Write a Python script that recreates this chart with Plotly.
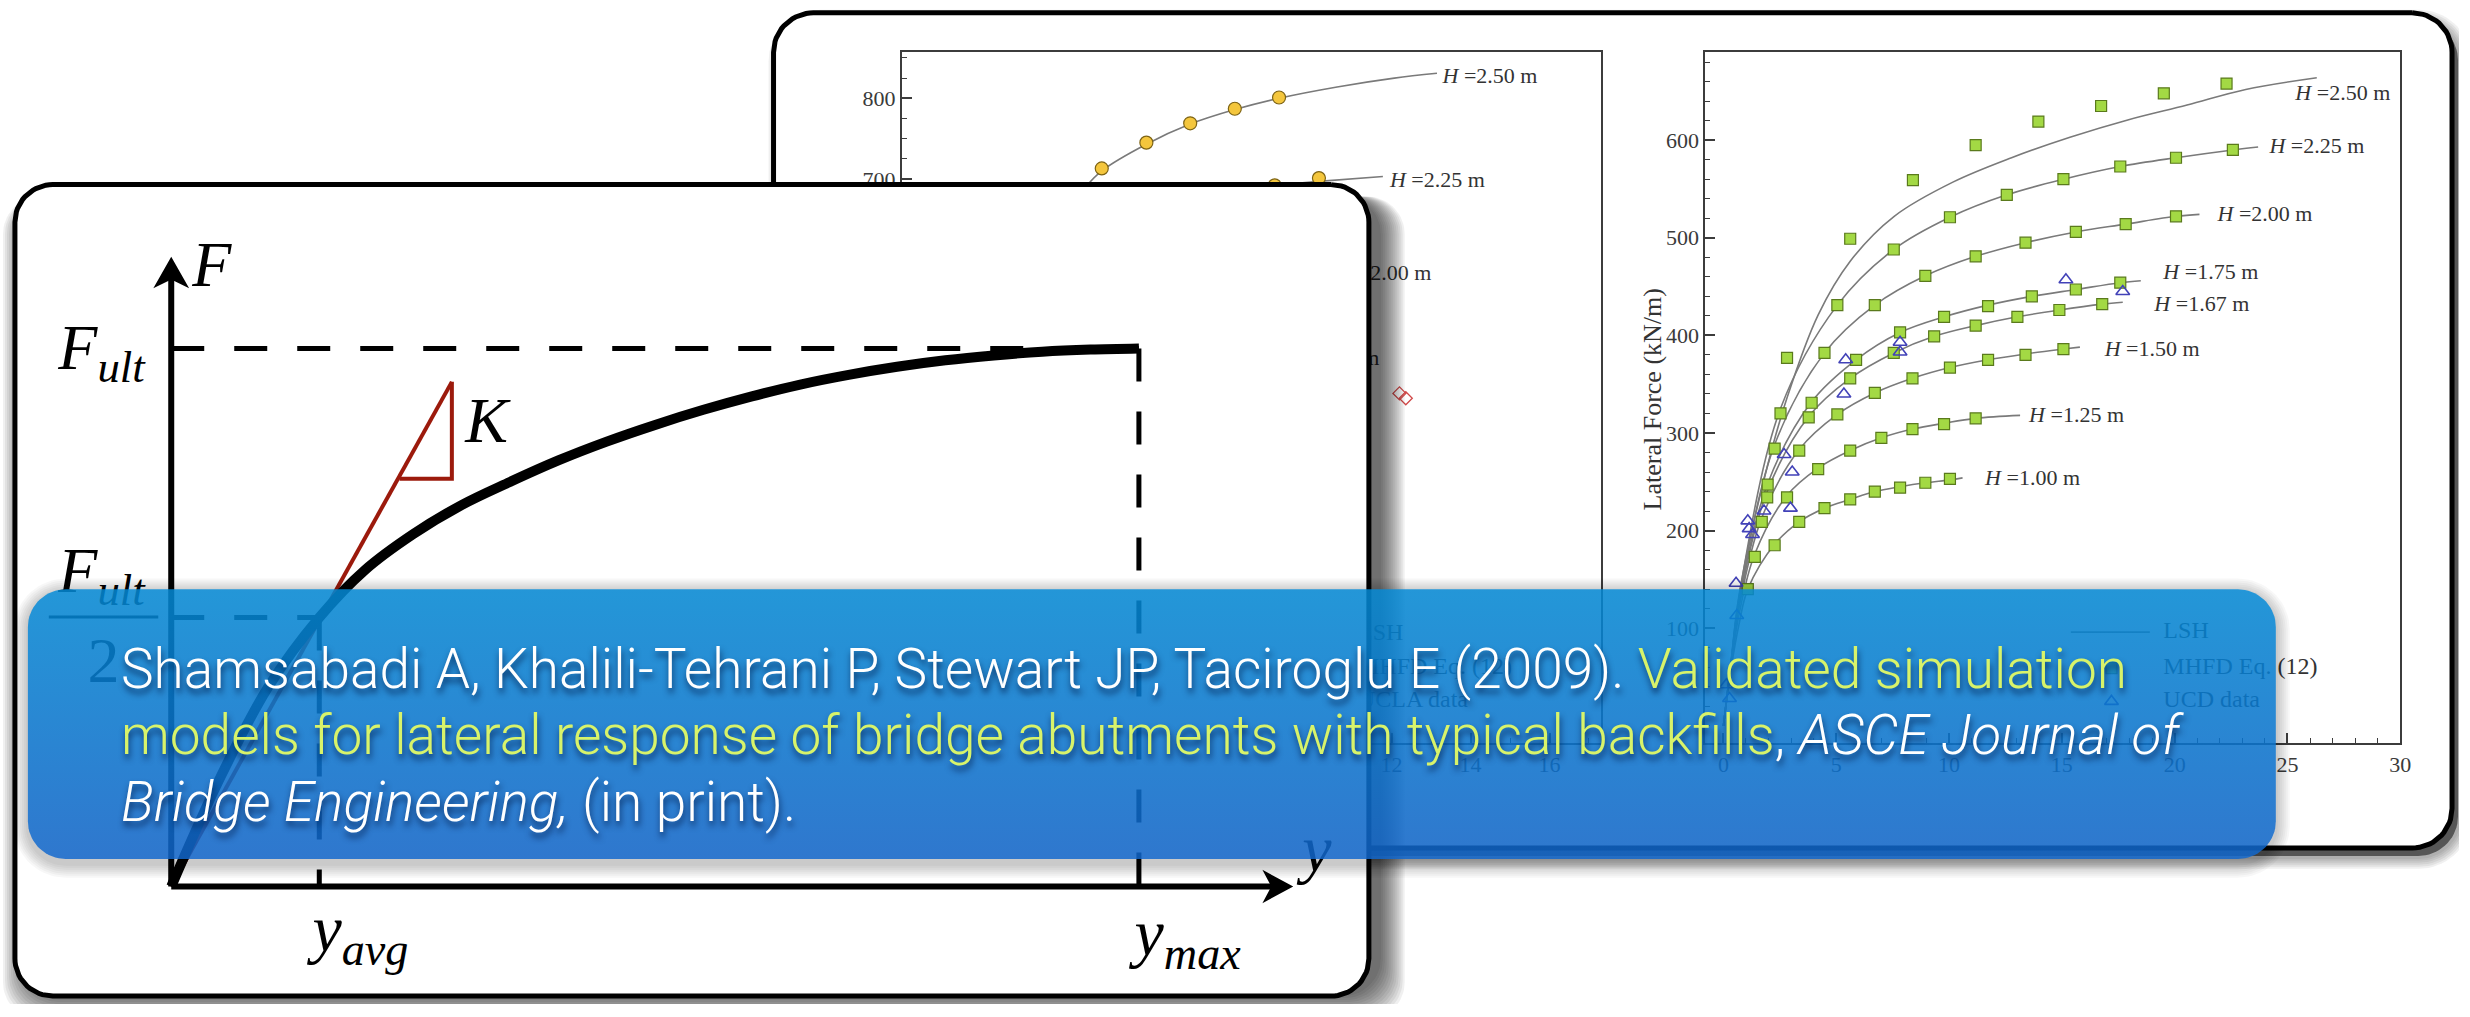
import numpy as np
import plotly.graph_objects as go

W, H = 2470, 1017
SERIF = "Liberation Serif"

# ------------------------------------------------------------------
# Right panel: lateral force (kN/m) vs displacement (cm)
# MHFD Eq. (12) points per backfill height
mhfd_100_x = [1.08, 2.27, 3.36, 4.48, 5.62, 6.71, 7.83, 8.95, 10.04]
mhfd_100_y = [140, 185, 209, 223, 232, 240, 244, 249, 253]
mhfd_125_x = [1.39, 2.82, 4.20, 5.62, 7.00, 8.38, 9.78, 11.18]
mhfd_125_y = [173, 234, 263, 282, 295, 304, 309, 315]
mhfd_150_x = [1.70, 3.36, 5.05, 6.71, 8.38, 10.04, 11.73, 13.39, 15.07]
mhfd_150_y = [209, 282, 319, 341, 356, 367, 375, 380, 386]
mhfd_167_x = [1.94, 3.78, 5.62, 7.55, 9.34, 11.18, 13.03, 14.89, 16.79]
mhfd_167_y = [234, 316, 356, 382, 399, 410, 419, 426, 432]
mhfd_175_x = [1.96, 3.91, 5.88, 7.83, 9.78, 11.73, 13.67, 15.62, 17.59]
mhfd_175_y = [247, 331, 375, 403, 419, 430, 440, 447, 454]
mhfd_200_x = [2.27, 4.48, 6.71, 8.95, 11.18, 13.39, 15.62, 17.83, 20.06]
mhfd_200_y = [284, 382, 431, 461, 481, 495, 506, 514, 522]
mhfd_225_x = [2.53, 5.05, 7.55, 10.04, 12.56, 15.07, 17.59, 20.06, 22.58]
mhfd_225_y = [320, 431, 488, 521, 544, 560, 573, 582, 590]
mhfd_250_x = [2.82, 5.62, 8.40, 11.18, 13.96, 16.74, 19.52, 22.30]
mhfd_250_y = [377, 499, 559, 595, 619, 635, 648, 658]

# LSH model curves
lsh_100_x = [0, 0.35, 0.70, 1.08, 2.27, 3.36, 4.48, 5.62, 6.71, 7.83, 8.95, 10.04, 10.6]
lsh_100_y = [0, 60, 105, 140, 186, 209, 223, 232, 240, 245, 249, 252, 254]
lsh_125_x = [0, 0.35, 0.70, 1.39, 2.82, 4.20, 5.62, 7.00, 8.38, 9.78, 11.18, 13.15]
lsh_125_y = [0, 63, 115, 176, 236, 264, 282, 295, 304, 310, 315, 318]
lsh_150_x = [0, 0.35, 0.70, 1.70, 3.36, 5.05, 6.71, 8.38, 10.04, 11.73, 13.39, 15.07, 15.8]
lsh_150_y = [0, 65, 122, 213, 283, 319, 341, 356, 367, 375, 381, 386, 388]
lsh_167_x = [0, 0.35, 0.70, 1.94, 3.78, 5.62, 7.55, 9.34, 11.18, 13.03, 14.89, 16.79, 17.7]
lsh_167_y = [0, 66, 126, 240, 317, 356, 382, 399, 410, 419, 426, 432, 434]
lsh_175_x = [0, 0.35, 0.70, 1.96, 3.91, 5.88, 7.83, 9.78, 11.73, 13.67, 15.62, 17.59, 18.5]
lsh_175_y = [0, 66, 128, 248, 332, 375, 403, 419, 431, 440, 447, 454, 456]
lsh_200_x = [0, 0.35, 0.70, 2.27, 4.48, 6.71, 8.95, 11.18, 13.39, 15.62, 17.83, 20.06, 21.1]
lsh_200_y = [0, 67, 130, 288, 382, 431, 461, 481, 495, 506, 514, 522, 524]
lsh_225_x = [0, 0.35, 0.70, 2.53, 5.05, 7.55, 10.04, 12.56, 15.07, 17.59, 20.06, 22.58, 23.7]
lsh_225_y = [0, 68, 133, 325, 431, 488, 521, 544, 560, 573, 582, 590, 593]
lsh_250_x = [0, 0.35, 0.70, 1.86, 2.82, 4.20, 5.62, 7.57, 10.17, 12.77, 15.36, 17.96, 20.55, 23.15, 26.3]
lsh_250_y = [0, 68, 135, 258, 336, 421, 476, 522, 557, 582, 603, 621, 636, 652, 664]

# UCD test data
ucd_x = [0.13, 0.27, 0.59, 0.56, 1.08, 1.14, 1.29, 1.80, 2.69, 2.97, 3.05, 5.34, 5.42, 7.83, 7.83, 15.18, 17.70]
ucd_y = [42, 28, 113, 146, 210, 202, 196, 220, 278, 223, 260, 340, 375, 393, 383, 457, 445]

right_labels = ["2.50", "2.25", "2.00", "1.75", "1.67", "1.50", "1.25", "1.00"]
right_label_x = [25.35, 24.2, 21.9, 19.5, 19.1, 16.9, 13.55, 11.6]
right_label_y = [647, 592, 523, 463, 431, 384, 317, 252]
right_xticks = [0, 5, 10, 15, 20, 25, 30]
right_yticks = [100, 200, 300, 400, 500, 600]

# ------------------------------------------------------------------
# Left panel (partly covered)
left_250_x = [4.66, 5.79, 6.90, 8.03, 9.15]
left_250_y = [713, 745, 769, 787, 801]
left_225_x = [9.04, 10.16]
left_225_y = [692, 701]
left_lsh_250_x = [4.27, 4.66, 5.79, 6.90, 8.03, 9.15, 10.62, 12.07, 13.15]
left_lsh_250_y = [691, 710, 743, 768, 786, 800, 814, 825, 831]
left_lsh_225_x = [8.5, 9.04, 10.16, 11.78]
left_lsh_225_y = [687, 692, 697, 703]
ucla_x = [12.20, 12.36]
ucla_y = [434, 428]
left_labels = ["2.50", "2.25", "2.00", "1.75"]
left_label_x = [13.29, 11.96, 13.01, 11.69]
left_label_y = [826, 697, 581, 476]
left_label_side = ["middle right", "middle right", "middle left", "middle left"]

# ------------------------------------------------------------------
# Schematic backbone curve (normalised: y / y_max, F / F_ult)
schem_disp = [0, 0.05, 0.10, 0.153, 0.20, 0.25, 0.30, 0.35, 0.40, 0.45, 0.50,
              0.55, 0.60, 0.65, 0.70, 0.75, 0.80, 0.85, 0.90, 0.95, 1.0]
schem_force = [0, 0.20, 0.37, 0.50, 0.588, 0.655, 0.709, 0.752, 0.792, 0.827, 0.858,
               0.886, 0.911, 0.933, 0.951, 0.966, 0.978, 0.987, 0.994, 0.998, 1.0]
f_ult = 1.0
y_max = 1.0
y_avg = 0.153
k_tri_x = [0.236, 0.290, 0.290]
k_tri_y = [0.758, 0.758, 0.938]

# ------------------------------------------------------------------
fig = go.Figure()


def ax(n):
    return ("x" if n == 1 else f"x{n}"), ("y" if n == 1 else f"y{n}")


def rrect(x0, y0, x1, y1, r, n=18):
    t = np.linspace(0, np.pi / 2, n)
    xs = np.concatenate([x1 - r + r * np.sin(t), x1 - r + r * np.cos(t),
                         x0 + r - r * np.sin(t), x0 + r - r * np.cos(t)])
    ys = np.concatenate([y0 + r - r * np.cos(t), y1 - r + r * np.sin(t),
                         y1 - r + r * np.cos(t), y0 + r - r * np.sin(t)])
    return list(xs) + [xs[0]], list(ys) + [ys[0]]


def poly(sub, xs, ys, fill, line_color="rgba(0,0,0,0)", lw=0, **kw):
    xa, ya = ax(sub)
    fig.add_trace(go.Scatter(x=xs, y=ys, mode="lines", fill="toself", fillcolor=fill,
                             line=dict(color=line_color, width=lw), hoverinfo="skip",
                             showlegend=False, xaxis=xa, yaxis=ya, **kw))


def line(sub, xs, ys, color, width, dash="solid", shape="linear"):
    xa, ya = ax(sub)
    fig.add_trace(go.Scatter(x=xs, y=ys, mode="lines", line=dict(color=color, width=width, dash=dash, shape=shape),
                             hoverinfo="skip", showlegend=False, xaxis=xa, yaxis=ya, cliponaxis=False))


def marks(sub, xs, ys, symbol, size, color, lcolor, lw=1.2):
    xa, ya = ax(sub)
    fig.add_trace(go.Scatter(x=xs, y=ys, mode="markers",
                             marker=dict(symbol=symbol, size=size, color=color, line=dict(color=lcolor, width=lw)),
                             hoverinfo="skip", showlegend=False, xaxis=xa, yaxis=ya))


def text(sub, x, y, t, size, color="black", pos="middle center", family=SERIF):
    xa, ya = ax(sub)
    fig.add_trace(go.Scatter(x=[x], y=[y], mode="text", text=[t], textposition=pos,
                             textfont=dict(family=family, size=size, color=color),
                             hoverinfo="skip", showlegend=False, xaxis=xa, yaxis=ya, cliponaxis=False))


# ---------------- back card ----------------
BX0, BY0, BX1, BY1, BR = 777, 13, 2463, 859, 40
xs, ys = rrect(BX0 + 6, BY0 + 8, BX1 + 6, BY1 + 8, BR)
poly(1, xs, ys, "rgba(0,0,0,0.5)")
for e in range(2, 14, 2):
    xs, ys = rrect(BX0 + 7 - e, BY0 + 9 - e, BX1 + 7 + e, BY1 + 9 + e, BR + e)
    poly(1, xs, ys, "rgba(0,0,0,0.06)")
xs, ys = rrect(BX0, BY0, BX1, BY1, BR)
poly(1, xs, ys, "white", "black", 5)

# ---------------- left panel ----------------
GREY = "#7a7a7a"
line(2, left_lsh_250_x, left_lsh_250_y, GREY, 1.6, shape="spline")
line(2, left_lsh_225_x, left_lsh_225_y, GREY, 1.6)
marks(2, left_250_x, left_250_y, "circle", 13, "#f4c63d", "#7d6314")
marks(2, left_225_x, left_225_y, "circle", 13, "#f4c63d", "#7d6314")
marks(2, ucla_x, ucla_y, "diamond-open", 10, "#d04848", "#d04848", 1.3)
for lab, lx, ly, side in zip(left_labels, left_label_x, left_label_y, left_label_side):
    text(2, lx, ly, f"<i>H</i> ={lab} m", 22, "#333333", side)
line(2, [9.3, 10.8], [136, 136], GREY, 1.6)
marks(2, [10.05], [93], "circle", 13, "#f4c63d", "#7d6314")
marks(2, [10.05], [53], "diamond-open", 10, "#d04848", "#d04848", 1.3)
for t_, ty in zip(["LSH", "MHFD Eq. (12)", "UCLA data"], [136, 93, 53]):
    text(2, 11.15, ty, t_, 24, "#333333", "middle right")

# ---------------- right panel ----------------
lsh_sets = [(lsh_100_x, lsh_100_y), (lsh_125_x, lsh_125_y), (lsh_150_x, lsh_150_y), (lsh_167_x, lsh_167_y),
            (lsh_175_x, lsh_175_y), (lsh_200_x, lsh_200_y), (lsh_225_x, lsh_225_y), (lsh_250_x, lsh_250_y)]
for cx, cy in lsh_sets:
    line(3, cx, cy, GREY, 1.6, shape="spline")
mhfd_sets = [(mhfd_100_x, mhfd_100_y), (mhfd_125_x, mhfd_125_y), (mhfd_150_x, mhfd_150_y), (mhfd_167_x, mhfd_167_y),
             (mhfd_175_x, mhfd_175_y), (mhfd_200_x, mhfd_200_y), (mhfd_225_x, mhfd_225_y), (mhfd_250_x, mhfd_250_y)]
for mx, my in mhfd_sets:
    marks(3, mx, my, "square", 11, "#a3d944", "#5a7a1c")
marks(3, ucd_x, ucd_y, "triangle-up-open", 12, "#4242b8", "#4242b8", 1.6)
for lab, lx, ly in zip(right_labels, right_label_x, right_label_y):
    text(3, lx, ly, f"<i>H</i> ={lab} m", 22, "#333333", "middle right")
line(3, [15.4, 18.9], [96, 96], GREY, 1.6)
marks(3, [17.2], [59], "square", 11, "#a3d944", "#5a7a1c")
marks(3, [17.2], [25], "triangle-up-open", 12, "#4242b8", "#4242b8", 1.6)
for t_, ty in zip(["LSH", "MHFD Eq. (12)", "UCD data"], [96, 59, 25]):
    text(3, 19.5, ty, t_, 24, "#333333", "middle right")
text(3, 14.6, -66, "Displacement (cm)", 26, "#333333")

# ---------------- front card ----------------
FX0, FY0, FX1, FY1, FR = 15, 187, 1375, 1009, 38
for e in range(0, 26, 2):
    xs, ys = rrect(FX0 + 12 - e, FY0 + 12, FX1 + 12 + e, FY1 + e, FR)
    poly(4, xs, ys, "rgba(0,0,0,0.06)")
xs, ys = rrect(FX0, FY0, FX1, FY1, FR)
poly(4, xs, ys, "white", "black", 5)

# ---------------- schematic ----------------
DASH = "33px,30px"
RED = "#9c1a0c"
line(5, [0, y_max], [f_ult, f_ult], "black", 5, DASH)
line(5, [y_max, y_max], [f_ult, 0], "black", 5, DASH)
line(5, [0, y_avg], [f_ult / 2, f_ult / 2], "black", 5, DASH)
line(5, [y_avg, y_avg], [f_ult / 2, 0], "black", 5, DASH)
line(5, [0, k_tri_x[2]], [0, k_tri_y[2]], RED, 4)
line(5, k_tri_x, k_tri_y, RED, 4)
line(5, schem_disp, schem_force, "black", 10, shape="spline")
line(5, [0, 0], [0, 1.13], "black", 6)
line(5, [0, 1.14], [0, 0], "black", 6)
poly(5, [0, -0.0185, 0, 0.0185, 0], [1.1706, 1.112, 1.128, 1.112, 1.1706], "black")
poly(5, [1.1595, 1.1276, 1.1368, 1.1276, 1.1595], [0, 0.031, 0, -0.031, 0], "black")
line(5, [-0.1265, -0.0134], [0.501, 0.501], "black", 3)
text(5, 0.042, 1.146, "<i>F</i>", 64)
text(5, 0.326, 0.855, "<i>K</i>", 64)
text(5, -0.072, 0.992, "<i>F</i><sub><i>ult</i></sub>", 64)
text(5, -0.072, 0.578, "<i>F</i><sub><i>ult</i></sub>", 64)
text(5, -0.070, 0.41, "2", 64)
text(5, 1.184, 0.06, "<i>y</i>", 66)
text(5, 0.1955, -0.09, "<i>y</i><sub><i>avg</i></sub>", 66)
text(5, 1.0504, -0.097, "<i>y</i><sub><i>max</i></sub>", 66)

# ---------------- banner ----------------
NX0, NY0, NX1, NY1, NR = 28, 597, 2286, 870, 38
for e in range(2, 16, 2):
    xs, ys = rrect(NX0 - e, NY0 + 3 - e, NX1 + e, NY1 + 5 + e, NR + e)
    poly(6, xs, ys, "rgba(0,0,0,0.03)")
xs, ys = rrect(NX0, NY0, NX1, NY1, NR)
fig.add_trace(go.Scatter(x=xs, y=ys, mode="lines", fill="toself", line=dict(width=0, color="rgba(0,0,0,0)"),
                         fillgradient=dict(type="vertical", start=NY0, stop=NY1,
                                           colorscale=[[0, "rgb(4,140,218)"], [1, "rgb(18,102,206)"]]),
                         opacity=0.84, hoverinfo="skip", showlegend=False, xaxis="x6", yaxis="y6"))

# ---------------- layout ----------------
layout = dict(width=W, height=H, margin=dict(l=0, r=0, t=0, b=0), paper_bgcolor="white",
              plot_bgcolor="rgba(0,0,0,0)", showlegend=False, hovermode=False)
for n in (1, 4, 6):
    k = "" if n == 1 else str(n)
    layout["xaxis" + k] = dict(domain=[0, 1], range=[0, W], visible=False, fixedrange=True, anchor="y" + k)
    layout["yaxis" + k] = dict(domain=[0, 1], range=[H, 0], visible=False, fixedrange=True, anchor="x" + k)


def frame_axis(px0, px1, rng, anchor, vertical, dtick=None, tickvals=None, minor=1):
    if vertical:
        dom = [1 - px1 / H, 1 - px0 / H]
    else:
        dom = [px0 / W, px1 / W]
    d = dict(domain=dom, range=rng, anchor=anchor, showline=True, linecolor="#3c3c3c", linewidth=2,
             mirror=True, ticks="inside", ticklen=10, tickwidth=1.6, tickcolor="#3c3c3c",
             showgrid=False, zeroline=False, fixedrange=True,
             tickfont=dict(family=SERIF, size=22, color="#3a3a3a"),
             minor=dict(ticks="inside", ticklen=5, tickwidth=1.2, tickcolor="#3c3c3c",
                        tick0=0, dtick=minor, showgrid=False))
    if tickvals is not None:
        d.update(tickmode="array", tickvals=tickvals, ticktext=[str(v) for v in tickvals])
    else:
        d.update(tick0=0, dtick=dtick)
    return d


layout["xaxis2"] = frame_axis(906, 1608, [-0.4, 17.3], "y2", False, dtick=2, minor=1)
layout["yaxis2"] = frame_axis(53, 753, [0, 857], "x2", True, dtick=100, minor=25)
layout["xaxis3"] = frame_axis(1713, 2411, [-0.8, 30], "y3", False, tickvals=right_xticks, minor=1)
layout["yaxis3"] = frame_axis(53, 753, [-18, 690], "x3", True, tickvals=right_yticks, minor=20)


# schematic axes: origin at (172, 898) px, y_max at 1144 px, F_ult at 353 px
def sx(px):
    return (px - 172) / 972.0


def sy(py):
    return (898 - py) / 545.0


layout["xaxis5"] = dict(domain=[FX0 / W, FX1 / W], range=[sx(FX0), sx(FX1)], visible=False,
                        fixedrange=True, anchor="y5")
layout["yaxis5"] = dict(domain=[1 - FY1 / H, 1 - FY0 / H], range=[sy(FY1), sy(FY0)], visible=False,
                        fixedrange=True, anchor="x5")

YG = "#d8f36a"
banner_lines = [
    ("Shamsabadi A, Khalili-Tehrani P, Stewart JP, Taciroglu E (2009). "
     f"<span style='color:{YG}'>Validated simulation</span>", 678),
    (f"<span style='color:{YG}'>models for lateral response of bridge abutments with typical backfills</span>, "
     "<i>ASCE Journal of</i>", 745),
    ("<i>Bridge Engineering,</i> (in print).", 812),
]
annotations = []
for t_, yc in banner_lines:
    annotations.append(dict(x=120, y=yc, xref="x6", yref="y6", xanchor="left", yanchor="middle",
                            showarrow=False, text=t_,
                            font=dict(family="Roboto", size=55, color="white", weight=300,
                                      shadow="1px 5px 6px rgba(0,25,70,0.8)")))
annotations.append(dict(x=1660, y=405, xref="x6", yref="y6", showarrow=False, textangle=-90,
                        text="Lateral Force (kN/m)", font=dict(family=SERIF, size=26, color="#333333")))
layout["annotations"] = annotations

fig.update_layout(**layout)
fig.write_html("out.html", config={"displayModeBar": False})
